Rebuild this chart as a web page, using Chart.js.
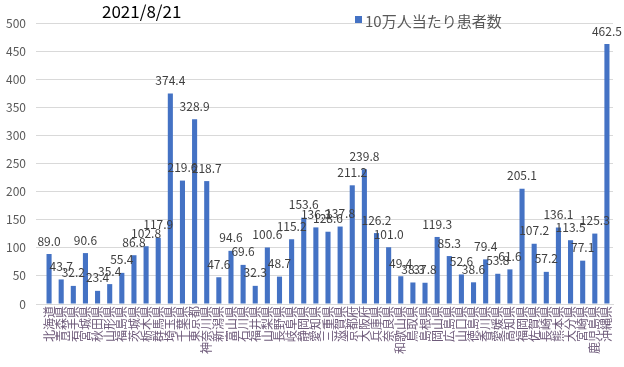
<!DOCTYPE html>
<html>
<head>
<meta charset="utf-8">
<script src="https://cdn.jsdelivr.net/npm/chart.js@4"></script>
<style>
  html, body { margin: 0; padding: 0; background: #fff; }
  #wrap { width: 624px; height: 367px; }
</style>
</head>
<body>
<div id="wrap"><canvas id="chart" width="624" height="367"></canvas></div>
<script>
// ===== Data =====
const chartTitle = '2021/8/21';
const seriesName = '10万人当たり患者数';

const prefectures = [
  '北海道','青森県','岩手県','宮城県','秋田県','山形県','福島県',
  '茨城県','栃木県','群馬県','埼玉県','千葉県','東京都','神奈川県',
  '新潟県','富山県','石川県','福井県','山梨県','長野県','岐阜県',
  '静岡県','愛知県','三重県','滋賀県','京都府','大阪府','兵庫県',
  '奈良県','和歌山県','鳥取県','島根県','岡山県','広島県','山口県',
  '徳島県','香川県','愛媛県','高知県','福岡県','佐賀県','長崎県',
  '熊本県','大分県','宮崎県','鹿児島県','沖縄県'
];

const casesPer100k = [
  89.0, 43.7, 32.2, 90.6, 23.4, 35.4, 55.4,
  86.8, 102.8, 117.9, 374.4, 219.6, 328.9, 218.7,
  47.6, 94.6, 69.6, 32.3, 100.6, 48.7, 115.2,
  153.6, 136.3, 128.6, 137.8, 211.2, 239.8, 126.2,
  101.0, 49.4, 38.3, 37.8, 119.3, 85.3, 52.6,
  38.6, 79.4, 53.8, 61.6, 205.1, 107.2, 57.2,
  136.1, 113.5, 77.1, 125.3, 462.5
];

const yTicks = [0, 50, 100, 150, 200, 250, 300, 350, 400, 450, 500];

const barColor = '#4472c4';
const gridColor = '#d9d9d9';
const fontFamily = '"Noto Sans CJK JP", "Noto Sans", sans-serif';

// value labels above each bar
const valueLabels = {
  id: 'valueLabels',
  afterDatasetsDraw(chart) {
    const ctx = chart.ctx;
    const meta = chart.getDatasetMeta(0);
    ctx.save();
    ctx.font = '12px ' + fontFamily;
    ctx.fillStyle = '#404040';
    ctx.textAlign = 'center';
    ctx.textBaseline = 'middle';
    meta.data.forEach((bar, i) => {
      ctx.fillText(casesPer100k[i].toFixed(1), bar.x, bar.y - 13);
    });
    ctx.restore();
  }
};

// title + legend drawn over the top of the plot
const header = {
  id: 'header',
  afterDraw(chart) {
    const ctx = chart.ctx;
    ctx.save();
    ctx.textBaseline = 'middle';
    ctx.textAlign = 'left';
    ctx.font = '17px ' + fontFamily;
    ctx.fillStyle = '#000';
    ctx.fillText(chartTitle, 102, 12);

    ctx.fillStyle = barColor;
    ctx.fillRect(355, 16, 7, 7);
    ctx.font = '15px ' + fontFamily;
    ctx.fillStyle = '#595959';
    ctx.fillText(seriesName, 365, 21);
    ctx.restore();
  }
};

const ctx = document.getElementById('chart').getContext('2d');
new Chart(ctx, {
  type: 'bar',
  data: {
    labels: prefectures,
    datasets: [{
      label: seriesName,
      data: casesPer100k,
      backgroundColor: barColor,
      categoryPercentage: 1,
      barPercentage: 0.42
    }]
  },
  options: {
    responsive: false,
    animation: false,
    layout: { padding: { top: 23, right: 11, left: 0, bottom: 0 } },
    plugins: {
      legend: { display: false },
      title: { display: false },
      tooltip: { enabled: false }
    },
    scales: {
      x: {
        grid: { display: false, drawTicks: false },
        border: { color: gridColor },
        ticks: {
          autoSkip: false,
          minRotation: 90,
          maxRotation: 90,
          padding: 2,
          color: '#6e5a7a',
          font: { family: fontFamily, size: 12 }
        },
        afterFit(axis) { axis.height = 63; }
      },
      y: {
        min: 0,
        max: 500,
        afterBuildTicks(axis) { axis.ticks = yTicks.map(v => ({ value: v })); },
        grid: { color: gridColor, drawTicks: true, tickLength: 7 },
        border: { display: false },
        ticks: {
          padding: 10,
          color: '#595959',
          font: { family: fontFamily, size: 12 }
        },
        afterFit(axis) { axis.width = 43; }
      }
    }
  },
  plugins: [valueLabels, header]
});
</script>
</body>
</html>
